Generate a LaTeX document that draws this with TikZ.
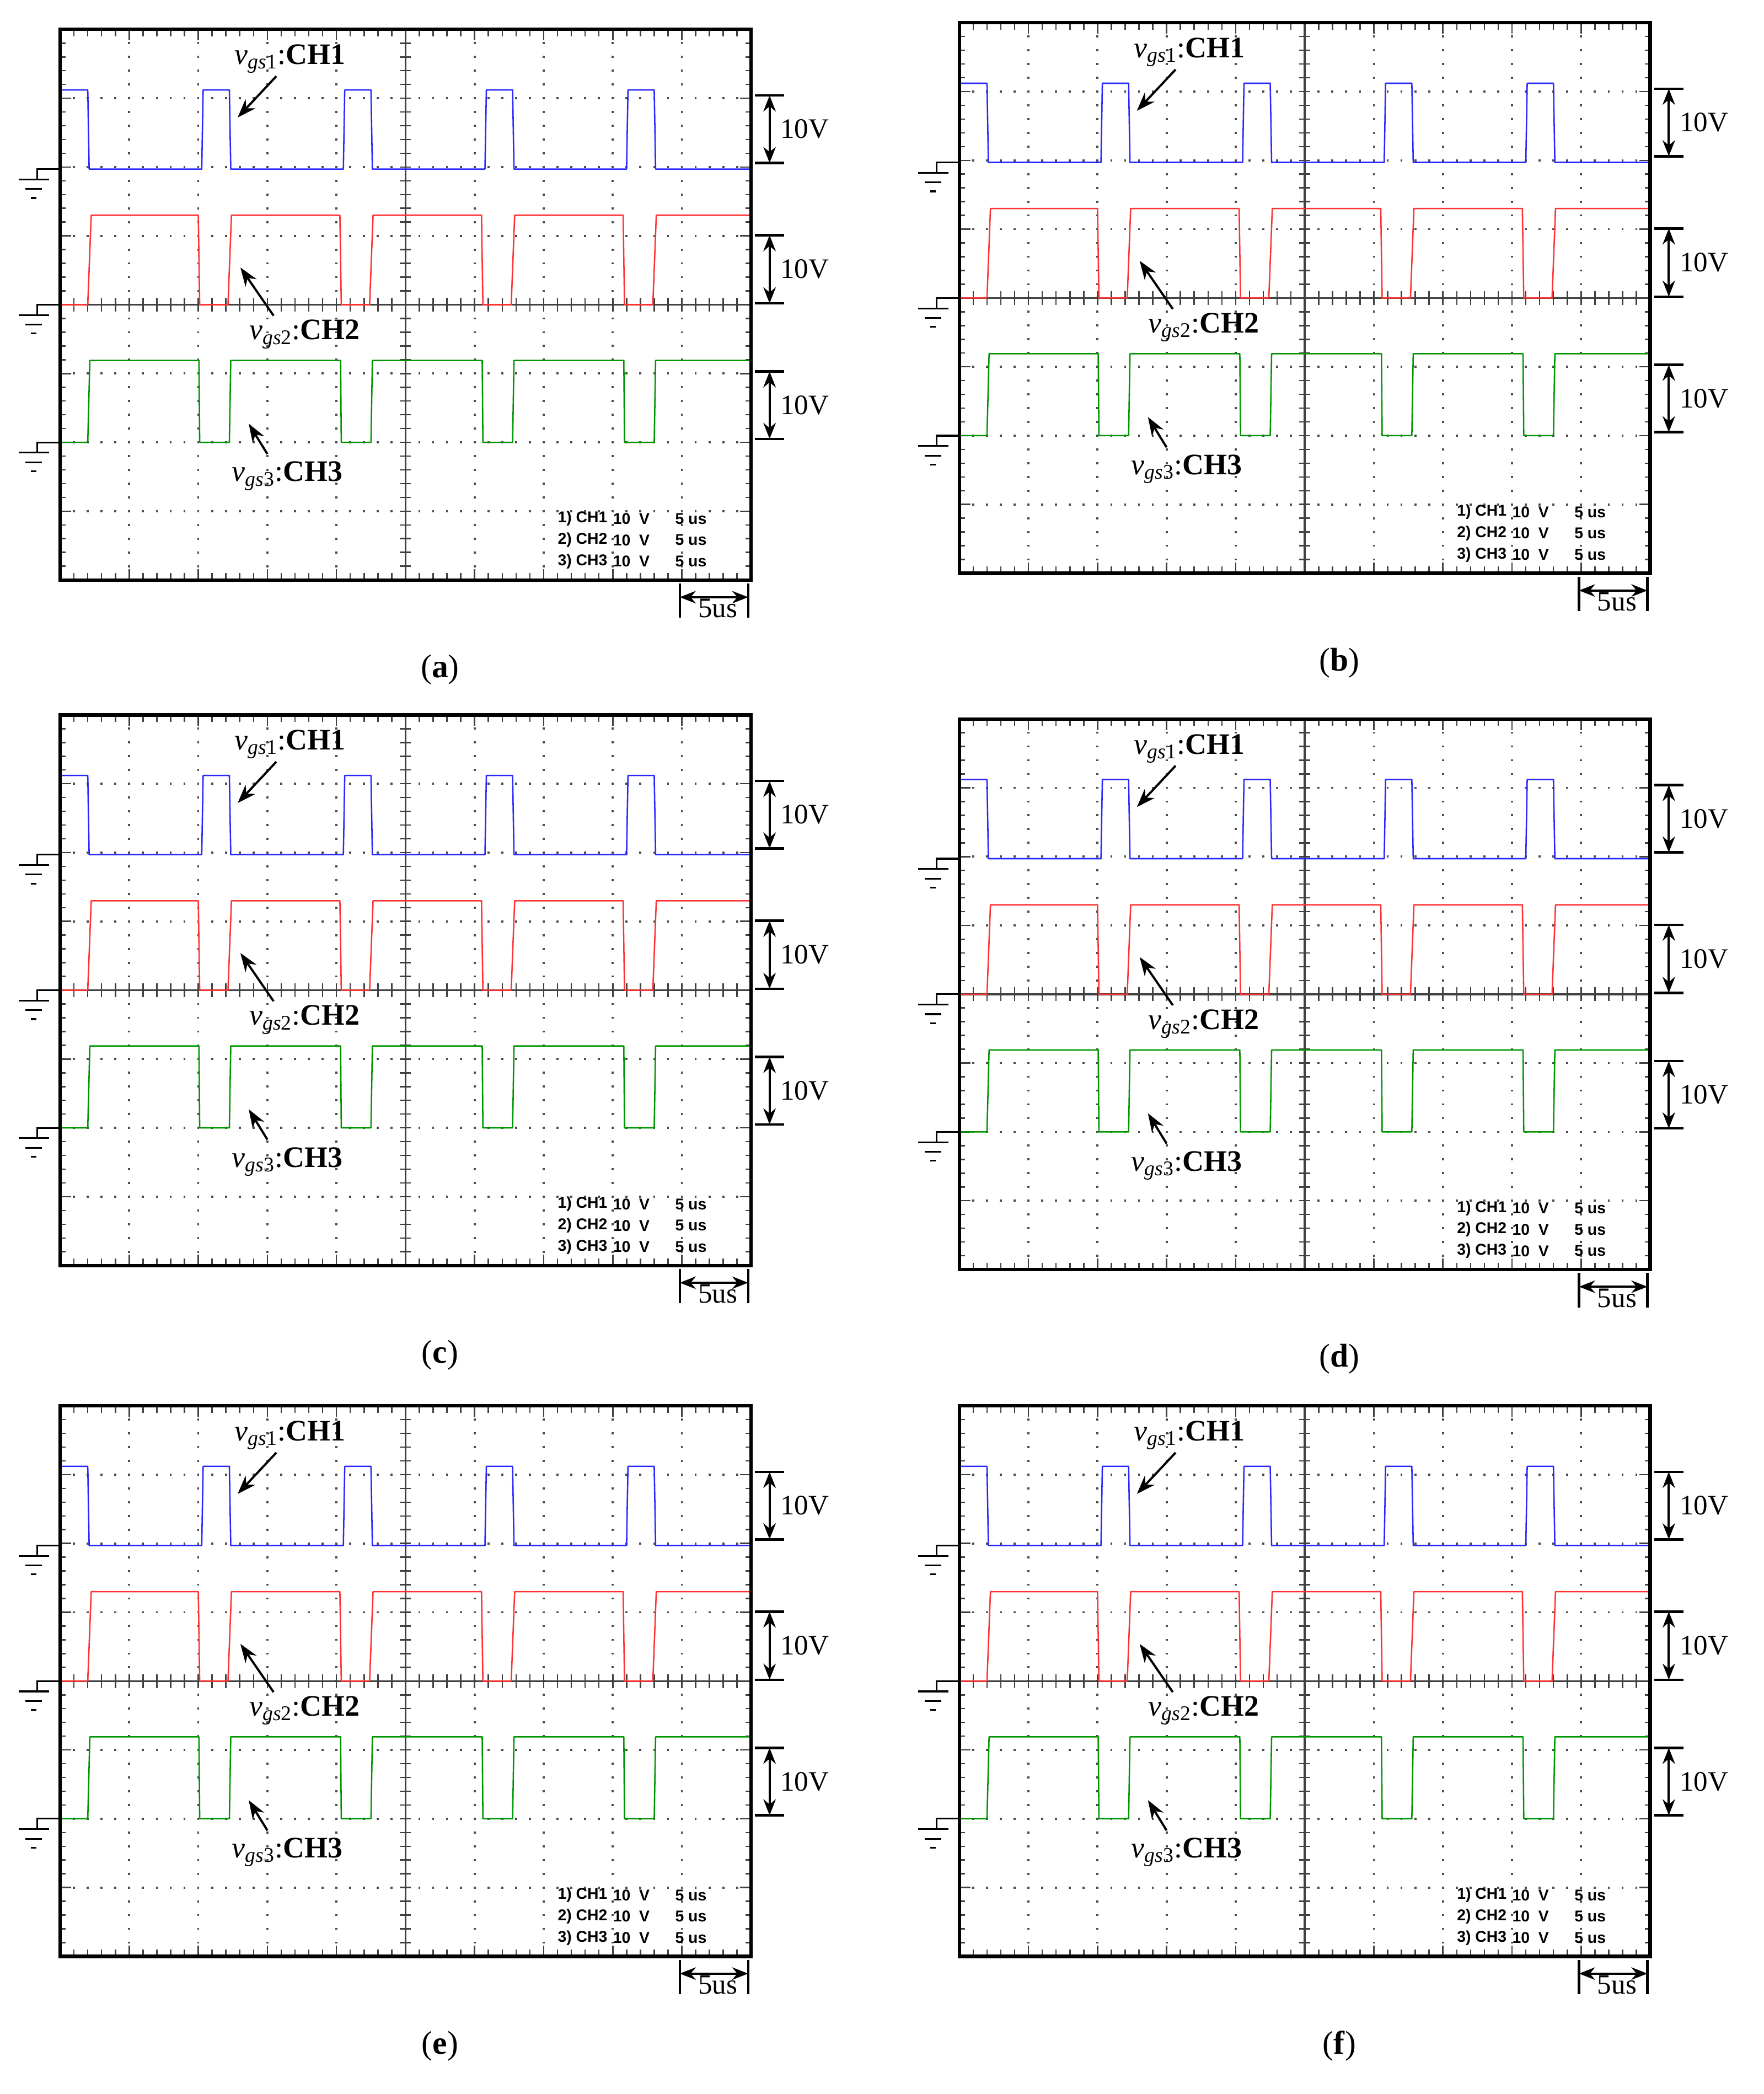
\documentclass[tikz,border=0pt]{standalone}
\usepackage{fontspec}
\setmainfont{Liberation Serif}
\newfontfamily\infofont{Liberation Sans}
\usetikzlibrary{arrows.meta}
\definecolor{tblue}{RGB}{40,40,255}
\definecolor{tred}{RGB}{255,50,50}
\definecolor{tgreen}{RGB}{0,150,0}
\tikzset{
 frame/.style={line width=2.2pt},
 axis/.style={line width=1.2pt,black!75},
 trace/.style={line width=0.9pt,line join=round},
 lab/.style={font=\fontsize{19}{21}\selectfont},
 vlab/.style={font=\fontsize{18}{20}\selectfont,anchor=west,inner sep=1pt},
 info/.style={font=\infofont\bfseries\fontsize{10}{11}\selectfont,anchor=west,inner sep=0pt},
 captext/.style={font=\fontsize{21}{23}\selectfont},
 ptr/.style={line width=1.4pt,-{Stealth[length=4.2mm,width=3mm]}},
 dim/.style={line width=1.4pt,{Stealth[length=3.6mm,width=2.8mm]}-{Stealth[length=3.6mm,width=2.8mm]}},
 bar/.style={line width=1.6pt},
}
\newcommand{\gnd}[1]{%
 \draw[line width=1.1pt] (0,#1) -- (-0.33,#1) -- (-0.33,#1+0.15);
 \draw[line width=1.1pt] (-0.6,#1+0.15) -- (-0.16,#1+0.15);
 \draw[line width=1.1pt] (-0.5,#1+0.29) -- (-0.26,#1+0.29);
 \draw[line width=1.1pt] (-0.42,#1+0.42) -- (-0.34,#1+0.42);}
\newcommand{\panel}[3]{%
\begin{scope}[shift={(#1*0.3mm,-#2*0.3mm)},x={(15.51mm,0)},y={(0,-15.45mm)}]
 \foreach \i in {1,2,3,4,6,7,8,9}{\foreach \j in {1,...,39}{\fill[black!70] (\i-0.015,\j/5-0.015) rectangle (\i+0.015,\j/5+0.015);}}
 \foreach \j in {1,2,3,5,6,7}{\foreach \i in {1,...,49}{\fill[black!70] (\i/5-0.015,\j-0.015) rectangle (\i/5+0.015,\j+0.015);}}
 \draw[axis] (5,0) -- (5,8);
 \draw[axis] (0,4) -- (10,4);
 \foreach \j in {1,...,39}{\draw[axis,line width=0.9pt] (4.92,\j/5) -- (5.08,\j/5);
   \draw[line width=0.9pt,black!75] (0,\j/5) -- (0.08,\j/5) (10,\j/5) -- (9.92,\j/5);}
 \foreach \i in {1,...,49}{\draw[axis,line width=0.9pt] (\i/5,3.9) -- (\i/5,4.1);
   \draw[line width=0.9pt,black!75] (\i/5,0) -- (\i/5,0.1) (\i/5,8) -- (\i/5,7.9);}
 \foreach \i in {1,...,9}{\draw[line width=0.9pt,black!75] (\i,0) -- (\i,0.16) (\i,8) -- (\i,7.84);}
 \foreach \j in {1,...,7}{\draw[line width=0.9pt,black!75] (0,\j) -- (0.16,\j) (10,\j) -- (9.84,\j);}
 \draw[trace,tblue] (0,0.88) -- (0.40,0.88) -- (0.42,2.03)
   \foreach \k in {1,...,4}{ -- ({2.05*\k},2.03) -- ({2.05*\k+0.02},0.88) -- ({2.05*\k+0.40},0.88) -- ({2.05*\k+0.42},2.03)} -- (10,2.03);
 \draw[trace,tred] (0,4.0) -- (0.40,4.0) -- (0.45,2.70)
   \foreach \k in {1,...,4}{ -- ({2.05*\k-0.05},2.70) -- ({2.05*\k-0.03},4.0) -- ({2.05*\k+0.38},4.0) -- ({2.05*\k+0.43},2.70)} -- (10,2.70);
 \draw[trace,tgreen] (0,6.0) -- (0.40,6.0) -- (0.43,4.81)
   \foreach \k in {1,...,4}{ -- ({2.05*\k-0.04},4.81) -- ({2.05*\k-0.03},6.0) -- ({2.05*\k+0.40},6.0) -- ({2.05*\k+0.42},4.81)} -- (10,4.81);
 \draw[frame] (0,0) rectangle (10,8);
 \gnd{2.03}\gnd{4.0}\gnd{6.0}
 \node[lab] (l1) at (3.33,0.43) {\textit{v}\textsubscript{\textit{gs}1}:\textbf{CH1}};
 \coordinate (a1) at (2.57,1.28); \draw[ptr] (3.13,0.68) -- (a1);
 \node[lab] (l2) at (3.54,4.43) {\textit{v}\textsubscript{\textit{gs}2}:\textbf{CH2}};
 \coordinate (a2) at (2.61,3.46); \draw[ptr] (3.09,4.16) -- (a2);
 \node[lab] (l3) at (3.29,6.49) {\textit{v}\textsubscript{\textit{gs}3}:\textbf{CH3}};
 \coordinate (a3) at (2.73,5.73); \draw[ptr] (3.0,6.17) -- (a3);
 \foreach \t/\b in {0.96/1.94,2.99/3.98,4.97/5.95}{
   \draw[bar] (10.06,\t) -- (10.48,\t) (10.06,\b) -- (10.48,\b);
   \draw[dim] (10.27,\t) -- (10.27,\b);
   \node[vlab] at (10.4,{(\t+\b)/2}) {10V};}
 \draw[bar] (8.97,8.05) -- (8.97,8.55) (9.96,8.05) -- (9.96,8.55);
 \draw[dim] (8.97,8.25) -- (9.96,8.25);
 \node[vlab,anchor=north] at (9.52,8.25) {5us};
 \foreach \n/\y in {1/7.11,2/7.42,3/7.73}{
   \node[info] at (7.2,\y) {\n) CH\n};
   \node[info] at (8.0,\y) {10\ \ V};
   \node[info] at (8.9,\y) {5 us};}
 \node[captext] at (5.5,9.3) {(\textbf{#3})};
\end{scope}}
\begin{document}
\begin{tikzpicture}[x=0.3mm,y=-0.3mm]
\fill[white] (0,0) rectangle (1320,1567);
\useasboundingbox (0,0) rectangle (1320,1567);
\panel{45}{22}{a}
\panel{718}{17}{b}
\panel{45}{535}{c}
\panel{718}{538}{d}
\panel{45}{1052}{e}
\panel{718}{1052}{f}
\end{tikzpicture}
\end{document}
